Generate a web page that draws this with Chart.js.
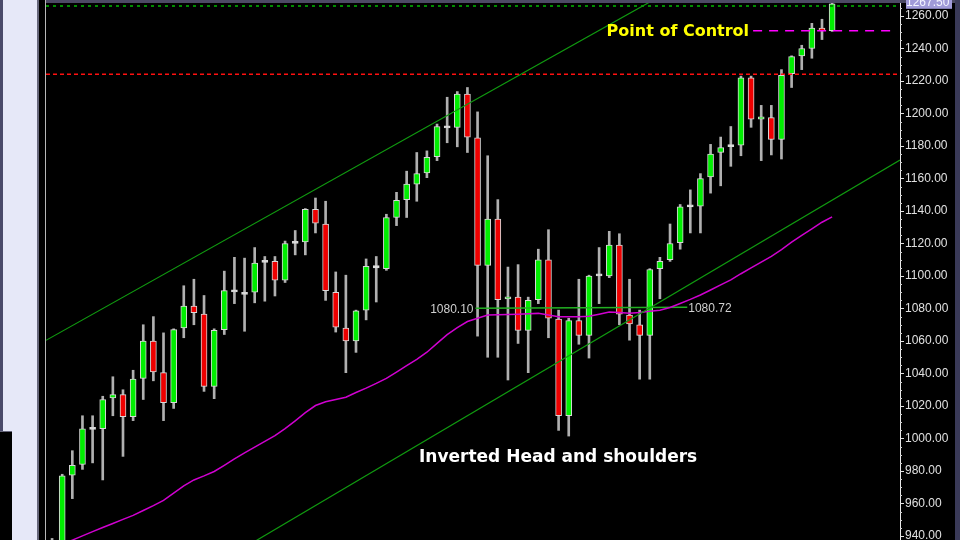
<!DOCTYPE html>
<html>
<head>
<meta charset="utf-8">
<title>Inverted Head and shoulders</title>
<script src="https://cdn.jsdelivr.net/npm/chart.js@4.4.1/dist/chart.umd.min.js"></script>
<style>
  html, body { margin: 0; padding: 0; background: #000; overflow: hidden; }
</style>
</head>
<body>
<canvas id="chart" width="960" height="540"></canvas>
<script>
// Daily bars (index 0 = leftmost bar)
const opens = [925, 925, 977.5, 984, 1006, 1006, 1025, 1027, 1013.5, 1037,
  1060, 1040.5, 1022, 1068, 1081.5, 1076.5, 1032, 1067, 1090.6, 1089.5,
  1090, 1108.8, 1109, 1097.5, 1120.5, 1121, 1141, 1132, 1090, 1068,
  1060, 1079, 1105.5, 1104.5, 1136, 1147, 1156.5, 1163.5, 1173.5, 1191.5,
  1191.5, 1212, 1185, 1106.5, 1135, 1086, 1087, 1066.5, 1085.5, 1110,
  1073.5, 1014, 1072.5, 1063.5, 1100.5, 1100, 1119, 1076, 1070, 1063.5,
  1104.5, 1110, 1120.5, 1143, 1143, 1161, 1176, 1180, 1180.5, 1222,
  1196.5, 1197.5, 1184, 1224.5, 1235.5, 1240, 1252.5, 1251];
const highs = [938.5, 978, 992.5, 1014, 1014, 1026, 1038, 1030, 1042, 1070,
  1075, 1065, 1067.5, 1094, 1098, 1088, 1067.5, 1103, 1111.5, 1111,
  1117.5, 1112, 1112, 1121.5, 1128, 1141.5, 1148, 1146, 1102.5, 1100.5,
  1079, 1110.5, 1112, 1138, 1151.5, 1164.5, 1176, 1177, 1193.5, 1210,
  1213.5, 1216, 1201, 1174, 1147, 1105.5, 1107, 1087, 1116.5, 1128.5,
  1079, 1074, 1098, 1100.5, 1117.5, 1127.5, 1126, 1098, 1079, 1104.5,
  1111.5, 1132, 1144, 1153, 1163, 1181, 1185.5, 1192, 1223, 1223,
  1205, 1205, 1227, 1235.5, 1242, 1255.5, 1258, 1270];
const lows = [915, 915, 963, 981, 985, 974.5, 1014, 989, 1011, 1024,
  1035.5, 1011, 1018.5, 1062, 1070, 1029, 1024.5, 1064, 1083, 1066,
  1083.5, 1084.5, 1087.7, 1096, 1113, 1113, 1126.5, 1085, 1065.5, 1040.5,
  1053, 1073, 1084, 1103.5, 1131, 1136, 1146, 1160.5, 1171, 1182,
  1179.5, 1176, 1063, 1050, 1050, 1036, 1058.5, 1040.5, 1083, 1062,
  1005, 1001.5, 1058, 1049.5, 1083, 1099, 1070, 1060.5, 1036.5, 1036.5,
  1086, 1109, 1116.5, 1126.5, 1126.5, 1151, 1155.5, 1167.5, 1174, 1191.5,
  1171, 1174.5, 1172, 1216, 1227, 1234, 1245.5, 1250.5];
const closes = [932, 977, 983.5, 1006, 1006.4, 1024, 1027, 1013.5, 1036.5, 1060,
  1041, 1022, 1067, 1081.5, 1077.5, 1032, 1066.5, 1091, 1091, 1089.1,
  1108, 1109.2, 1097.5, 1120, 1120.9, 1141, 1132.5, 1091, 1068.5, 1060,
  1078.5, 1106, 1105.9, 1136, 1146.5, 1156.5, 1163, 1173, 1192, 1191.9,
  1212, 1185.5, 1106.5, 1135, 1085.5, 1087.2, 1066.5, 1085, 1110, 1074,
  1014, 1072.5, 1063.5, 1100, 1100.9, 1119, 1076.5, 1070.5, 1063.5, 1104,
  1109, 1120, 1142.5, 1143.4, 1160, 1175, 1179, 1180.4, 1222, 1196.5,
  1198, 1184, 1223.5, 1235, 1240, 1252.5, 1251, 1267.5];

// magenta moving average
const movingAvg = [931, 934.5, 937.5, 940.1, 942.7, 945.2, 947.7, 950.2, 952.7, 955.7,
  958.7, 961.9, 966.4, 970.9, 974.5, 977, 979.7, 983.5, 987.4, 991.2,
  994.7, 998.2, 1001.8, 1006.1, 1010.9, 1015.9, 1020.3, 1022.6, 1024, 1025.4,
  1028.3, 1031, 1033.9, 1037, 1040.9, 1044.8, 1048.7, 1053.1, 1058.5, 1063.9,
  1068.2, 1072, 1074, 1076, 1076.2, 1076.3, 1076.5, 1076.7, 1077, 1076,
  1075, 1075, 1075, 1075.2, 1076.5, 1077.8, 1077.5, 1077.1, 1077.5, 1078.3,
  1078.9, 1080.6, 1083.1, 1085.6, 1088.3, 1091.4, 1094.5, 1097.6, 1101.4, 1105,
  1108.6, 1112.1, 1116.3, 1120.8, 1125, 1129, 1133.1, 1136.4];

// trend channel, [bar index, price] at both ends
const upperChannel = [[-0.6, 1060.4], [83.7, 1354.9]];
const lowerChannel = [[15, 918.2], [83.7, 1171.4]];
// neckline of the head and shoulders
const neckline = [[41.8, 1080.10], [62.7, 1080.72]];
const necklineLabels = ['1080.10', '1080.72'];
// horizontal levels
const resistance = 1224.1;
const topLevel = 1266.2;
const pointOfControl = 1251;
const pocRange = [69.2, 83.1];
const lastPrice = 1267.5;

const yTicks = { min: 937.54, max: 1268, step: 20, minor: 5 };
const xRange = [-0.6, 83.7];

const GREEN = '#00ee00';
const RED = '#ee0000';
const DOJI = '#e8e8e8';

const wickData = highs.map((h, i) => ({ x: i, y: [lows[i], h] }));
const bodyData = opens.map((o, i) => {
    let lo = Math.min(o, closes[i]);
    let hi = Math.max(o, closes[i]);
    if (hi - lo < 1.3) { // keep dojis visible as a flat line
        const mid = (hi + lo) / 2;
        lo = mid - 0.65;
        hi = mid + 0.65;
    }
    return { x: i, y: [lo, hi] };
});
const bodyColors = opens.map((o, i) => {
    const d = closes[i] - o;
    if (Math.abs(d) < 1) return DOJI;
    return d > 0 ? GREEN : RED;
});

const toPts = arr => arr.map(p => ({ x: p[0], y: p[1] }));

function lineSet(data, color, width, dash) {
    return {
        type: 'line', data, borderColor: color, borderWidth: width,
        borderDash: dash || [], pointRadius: 0, tension: 0, clip: 0, order: 0
    };
}

// frame around the plot, like the trading platform window
const framePlugin = {
    id: 'frame',
    beforeDraw(chart) {
        const ctx = chart.ctx;
        ctx.save();
        ctx.fillStyle = '#000';
        ctx.fillRect(0, 0, 960, 540);
        ctx.fillStyle = '#4a4a6a';
        ctx.fillRect(0, 0, 3, 432);
        ctx.fillStyle = '#e6e8f8';
        ctx.fillRect(3, 0, 34, 540);
        ctx.fillStyle = '#000';
        ctx.fillRect(0, 432, 12, 108);
        ctx.fillStyle = '#66667a';
        ctx.fillRect(0, 431, 12, 1);
        ctx.fillRect(37, 0, 2, 540);
        ctx.fillStyle = '#b8b8b8';
        ctx.fillRect(45, 0, 1, 540);
        ctx.fillStyle = '#4c4a64';
        ctx.fillRect(46, 0, 914, 3);
        ctx.fillStyle = '#3a3a58';
        ctx.fillRect(955, 0, 5, 540);
        ctx.restore();
    }
};

const notesPlugin = {
    id: 'notes',
    afterDraw(chart) {
        const ctx = chart.ctx;
        const x = chart.scales.x, y = chart.scales.y;
        ctx.save();

        // minor ticks on the price axis
        ctx.strokeStyle = '#d0d0d0';
        ctx.lineWidth = 1;
        for (let v = 940; v < yTicks.max; v += yTicks.minor) {
            if (v % yTicks.step === 0) continue;
            const py = Math.round(y.getPixelForValue(v)) + 0.5;
            ctx.beginPath();
            ctx.moveTo(900, py);
            ctx.lineTo(902, py);
            ctx.stroke();
        }

        // last price box
        const lp = y.getPixelForValue(lastPrice);
        ctx.fillStyle = '#a09ad8';
        ctx.fillRect(906, lp - 8, 46, 13);
        ctx.fillStyle = '#f4f4ff';
        ctx.font = '12px "Liberation Sans", Arial, sans-serif';
        ctx.textAlign = 'left';
        ctx.textBaseline = 'middle';
        ctx.fillText(lastPrice.toFixed(2), 906, lp - 1);

        // neckline values
        ctx.fillStyle = '#d0d0d0';
        ctx.textAlign = 'right';
        ctx.fillText(necklineLabels[0], x.getPixelForValue(neckline[0][0]) - 2, y.getPixelForValue(neckline[0][1]) + 1);
        ctx.textAlign = 'left';
        ctx.fillText(necklineLabels[1], x.getPixelForValue(neckline[1][0]) + 1, y.getPixelForValue(neckline[1][1]) + 1);

        // captions
        ctx.font = 'bold 16px "DejaVu Sans", Verdana, sans-serif';
        ctx.fillStyle = '#ffff00';
        ctx.textAlign = 'right';
        ctx.fillText('Point of Control', x.getPixelForValue(68.8), y.getPixelForValue(1250.2));

        ctx.font = 'bold 17px "DejaVu Sans", Verdana, sans-serif';
        ctx.fillStyle = '#ffffff';
        ctx.textAlign = 'center';
        ctx.fillText('Inverted Head and shoulders', x.getPixelForValue(49.95), y.getPixelForValue(988));
        ctx.restore();
    }
};

new Chart(document.getElementById('chart'), {
    type: 'bar',
    data: {
        datasets: [
            lineSet(toPts(upperChannel), '#109a10', 1.2),
            lineSet(toPts(lowerChannel), '#109a10', 1.2),
            lineSet(movingAvg.map((v, i) => ({ x: i, y: v })), '#d000d0', 1.5),
            lineSet(toPts(neckline), '#22b022', 1.5),
            lineSet([{ x: xRange[0], y: resistance }, { x: xRange[1], y: resistance }], '#ff1010', 1.5, [4, 3]),
            lineSet([{ x: xRange[0], y: topLevel }, { x: xRange[1], y: topLevel }], '#008c00', 2, [3, 4]),
            lineSet([{ x: pocRange[0], y: pointOfControl }, { x: pocRange[1], y: pointOfControl }], '#ff00ff', 1.5, [9, 7]),
            {
                data: wickData, backgroundColor: '#b0b0b0', barThickness: 2,
                grouped: false, order: 3
            },
            {
                data: bodyData, backgroundColor: bodyColors, borderColor: '#d8d8d8',
                borderWidth: 1, borderSkipped: false, barThickness: 6,
                grouped: false, order: 2
            }
        ]
    },
    options: {
        responsive: false,
        animation: false,
        devicePixelRatio: 1,
        layout: { padding: { left: 46, top: 3, right: 0, bottom: 0 }, autoPadding: false },
        plugins: { legend: { display: false }, tooltip: { enabled: false } },
        scales: {
            x: { type: 'linear', min: xRange[0], max: xRange[1], offset: false, display: false },
            y: {
                position: 'right',
                min: yTicks.min,
                max: yTicks.max,
                afterFit: s => {
                    s.width = 60;
                    // let the plot run to the top and bottom edges
                    s.paddingTop = 0;
                    s.paddingBottom = 0;
                },
                ticks: {
                    stepSize: yTicks.step,
                    includeBounds: false,
                    autoSkip: false,
                    padding: 1,
                    color: '#e0e0e0',
                    font: { family: '"Liberation Sans", Arial, sans-serif', size: 12 },
                    callback: v => Number(v).toFixed(2)
                },
                grid: { drawOnChartArea: false, color: '#e0e0e0', tickLength: 4 },
                border: { color: '#e8e8e8', width: 1 }
            }
        }
    },
    plugins: [framePlugin, notesPlugin]
});
</script>
</body>
</html>
